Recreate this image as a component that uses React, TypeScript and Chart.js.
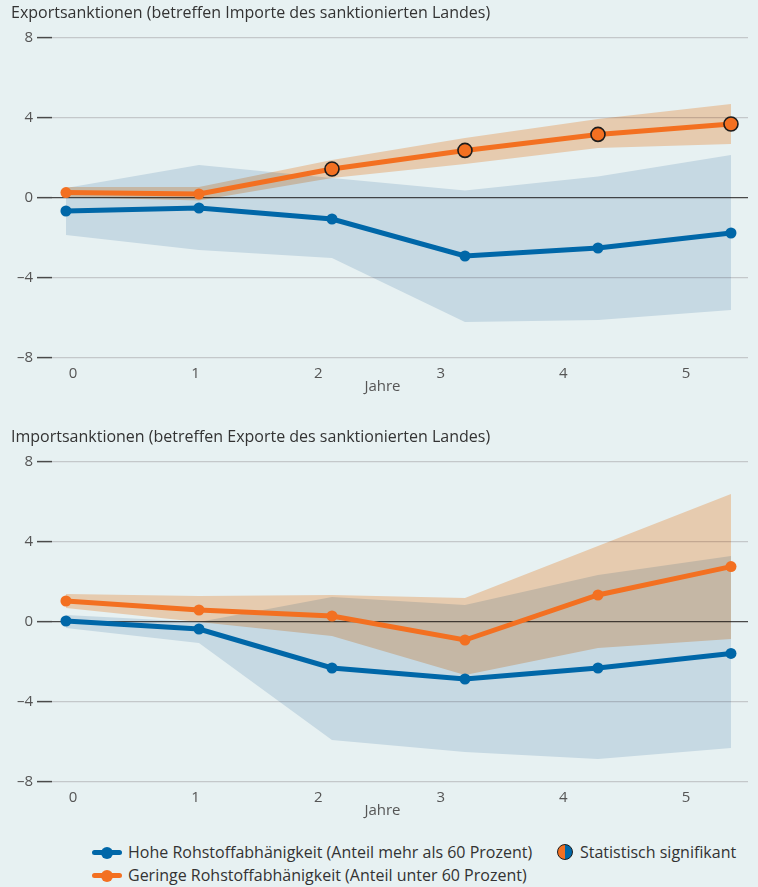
import React, { useEffect, useRef } from 'react';
import { Chart, registerables } from 'chart.js';

// ---------- data ----------
const years = [0, 1, 2, 3, 4, 5];
const xTickValues = [0, 1, 2, 3, 4, 5];
const yTickValues = [-8, -4, 0, 4, 8];

const titleExport = 'Exportsanktionen (betreffen Importe des sanktionierten Landes)';
const titleImport = 'Importsanktionen (betreffen Exporte des sanktionierten Landes)';
const xAxisTitle = 'Jahre';
const legendHigh = 'Hohe Rohstoffabhänigkeit (Anteil mehr als 60 Prozent)';
const legendLow = 'Geringe Rohstoffabhänigkeit (Anteil unter 60 Prozent)';
const legendSig = 'Statistisch signifikant';

// Export sanctions panel
const exportHighMean = [-0.65, -0.5, -1.05, -2.9, -2.5, -1.75];
const exportHighUpper = [0.5, 1.65, 1.0, 0.37, 1.07, 2.15];
const exportHighLower = [-1.85, -2.6, -3.0, -6.2, -6.1, -5.6];
const exportHighSig = [false, false, false, false, false, false];
const exportLowMean = [0.27, 0.2, 1.45, 2.38, 3.18, 3.7];
const exportLowUpper = [0.55, 0.55, 1.9, 3.0, 3.95, 4.7];
const exportLowLower = [0.05, -0.13, 1.0, 1.7, 2.5, 2.7];
const exportLowSig = [false, false, true, true, true, true];

// Import sanctions panel
const importHighMean = [0.05, -0.35, -2.3, -2.85, -2.3, -1.57];
const importHighUpper = [0.35, 0.0, 1.25, 0.85, 2.35, 3.3];
const importHighLower = [-0.3, -1.05, -5.9, -6.5, -6.85, -6.3];
const importHighSig = [false, false, false, false, false, false];
const importLowMean = [1.05, 0.6, 0.3, -0.9, 1.35, 2.77];
const importLowUpper = [1.4, 1.3, 1.35, 1.2, 3.8, 6.4];
const importLowLower = [0.7, 0.0, -0.7, -2.65, -1.3, -0.85];
const importLowSig = [false, false, false, false, false, false];

// ---------- styles ----------
const BG = '#e7f1f2';
const BLUE = '#0067a8';
const ORANGE = '#f37021';
const BLUE_BAND_MUL = 'rgb(219,230,240)';
const ORANGE_BAND_MUL = 'rgb(254,215,185)';
const FONT = '"Open Sans", "Noto Sans", sans-serif';
const TEXT = '#333333';
const TICK = '#555555';

const bandBlend = {
  id: 'bandBlend',
  beforeDraw(chart: any) {
    const { ctx, width, height } = chart;
    ctx.save();
    ctx.fillStyle = BG;
    ctx.fillRect(0, 0, width, height);
    ctx.restore();
  },
  beforeDatasetDraw(chart: any, args: any) {
    const ds: any = chart.data.datasets[args.index];
    if (ds && ds.band) {
      chart.ctx.save();
      chart.ctx.globalCompositeOperation = 'multiply';
    }
  },
  afterDatasetDraw(chart: any, args: any) {
    const ds: any = chart.data.datasets[args.index];
    if (ds && ds.band) chart.ctx.restore();
  },
};

Chart.register(bandBlend as any);
Chart.register(...registerables);

const pts = (ys: number[]) => years.map((x, i) => ({ x, y: ys[i] }));

function bandSets(lower: number[], upper: number[], color: string) {
  return [
    {
      data: pts(lower),
      borderWidth: 0,
      pointRadius: 0,
      pointHoverRadius: 0,
      fill: false,
      band: true,
      borderColor: 'rgba(0,0,0,0)',
    },
    {
      data: pts(upper),
      borderWidth: 0,
      pointRadius: 0,
      pointHoverRadius: 0,
      fill: '-1',
      backgroundColor: color,
      band: true,
      borderColor: 'rgba(0,0,0,0)',
    },
  ];
}

function lineSet(values: number[], sig: boolean[], color: string) {
  return {
    data: pts(values),
    borderColor: color,
    backgroundColor: color,
    borderWidth: 5,
    tension: 0,
    fill: false,
    pointRadius: values.map((_, i) => (sig[i] ? 7 : 5.5)),
    pointHoverRadius: values.map((_, i) => (sig[i] ? 7 : 5.5)),
    pointBackgroundColor: color,
    pointBorderColor: values.map((_, i) => (sig[i] ? '#1c1c1c' : color)),
    pointBorderWidth: values.map((_, i) => (sig[i] ? 1.6 : 0)),
  };
}

interface PanelProps {
  title: string;
  highMean: number[];
  highUpper: number[];
  highLower: number[];
  highSig: boolean[];
  lowMean: number[];
  lowUpper: number[];
  lowLower: number[];
  lowSig: boolean[];
}

function Panel(p: PanelProps) {
  const ref = useRef<HTMLCanvasElement>(null);
  useEffect(() => {
    if (!ref.current) return;
    const textPlugin = {
      id: 'panelText',
      afterDraw(chart: any) {
        const { ctx, chartArea } = chart;
        ctx.save();
        ctx.fillStyle = TEXT;
        ctx.font = `16px ${FONT}`;
        ctx.textAlign = 'left';
        ctx.textBaseline = 'middle';
        ctx.fillText(p.title, 11, 13);
        const x2 = chart.scales.x2;
        ctx.fillStyle = TICK;
        ctx.textAlign = 'center';
        ctx.font = `15px ${FONT}`;
        ctx.fillText(xAxisTitle, x2.getPixelForValue(2.5) + 3, chartArea.bottom + 29);
        ctx.restore();
      },
    };
    const chart = new Chart(ref.current, {
      type: 'line',
      data: {
        // lines first so that they are drawn last (on top of the bands)
        datasets: [
          lineSet(p.lowMean, p.lowSig, ORANGE),
          lineSet(p.highMean, p.highSig, BLUE),
          ...bandSets(p.highLower, p.highUpper, BLUE_BAND_MUL),
          ...bandSets(p.lowLower, p.lowUpper, ORANGE_BAND_MUL),
        ] as any,
      },
      options: {
        animation: false,
        responsive: false,
        devicePixelRatio: 1,
        layout: { padding: { top: 38, right: 10, left: 0, bottom: 0 } },
        plugins: {
          legend: { display: false },
          tooltip: { enabled: false },
          title: { display: false },
        },
        scales: {
          x: {
            type: 'linear',
            min: -0.105,
            max: 5.128,
            display: false,
          },
          x2: {
            type: 'linear',
            position: 'bottom',
            min: -0.171,
            max: 5.506,
            afterBuildTicks: (s: any) => {
              s.ticks = xTickValues.map((v) => ({ value: v }));
            },
            afterFit: (s: any) => {
              s.height = 52;
            },
            grid: { display: false, drawTicks: false },
            border: { display: false },
            ticks: {
              color: TICK,
              padding: 7,
              maxRotation: 0,
              autoSkip: false,
              font: { family: FONT, size: 15 },
              callback: (v: any) => String(v),
            },
          },
          y: {
            type: 'linear',
            min: -8,
            max: 8,
            afterBuildTicks: (s: any) => {
              s.ticks = yTickValues.map((v) => ({ value: v }));
            },
            afterFit: (s: any) => {
              s.width = 52;
            },
            border: { display: false },
            grid: {
              color: (c: any) => (c.tick && c.tick.value === 0 ? '#4a4a4a' : '#c4c8ca'),
              lineWidth: (c: any) => (c.tick && c.tick.value === 0 ? 1.3 : 1.2),
              tickColor: '#4a4a4a',
              tickLength: 15,
              tickWidth: 1.5,
            },
            ticks: {
              color: TICK,
              padding: 4,
              font: { family: FONT, size: 15 },
              callback: (v: any) => (v < 0 ? '\u2013' + Math.abs(v) : String(v)),
            },
          },
        },
      } as any,
      plugins: [textPlugin as any],
    });
    return () => chart.destroy();
  }, []);
  return <canvas ref={ref} width={758} height={410} style={{ display: 'block', width: 758, height: 410 }} />;
}

function LineIcon({ color }: { color: string }) {
  return (
    <div style={{ position: 'relative', width: 30, height: 12, marginRight: 6 }}>
      <div style={{ position: 'absolute', left: 0, top: 4, width: 30, height: 5, borderRadius: 2.5, background: color }} />
      <div style={{ position: 'absolute', left: 9, top: 0.5, width: 12, height: 12, borderRadius: '50%', background: color }} />
    </div>
  );
}

export default function App() {
  useEffect(() => {
    document.body.style.margin = '0';
  }, []);
  const textStyle: React.CSSProperties = { fontFamily: FONT, fontSize: 16, color: TEXT, whiteSpace: 'nowrap' };
  return (
    <div style={{ position: 'absolute', left: 0, top: 0, width: 758, height: 887, background: BG, overflow: 'hidden' }}>
      <div style={{ position: 'absolute', left: 0, top: 0 }}>
        <Panel
          title={titleExport}
          highMean={exportHighMean}
          highUpper={exportHighUpper}
          highLower={exportHighLower}
          highSig={exportHighSig}
          lowMean={exportLowMean}
          lowUpper={exportLowUpper}
          lowLower={exportLowLower}
          lowSig={exportLowSig}
        />
      </div>
      <div style={{ position: 'absolute', left: 0, top: 424 }}>
        <Panel
          title={titleImport}
          highMean={importHighMean}
          highUpper={importHighUpper}
          highLower={importHighLower}
          highSig={importHighSig}
          lowMean={importLowMean}
          lowUpper={importLowUpper}
          lowLower={importLowLower}
          lowSig={importLowSig}
        />
      </div>
      <div style={{ position: 'absolute', left: 92, top: 841, display: 'flex', alignItems: 'center', height: 22 }}>
        <LineIcon color={BLUE} />
        <span style={textStyle}>{legendHigh}</span>
      </div>
      <div style={{ position: 'absolute', left: 92, top: 864, display: 'flex', alignItems: 'center', height: 22 }}>
        <LineIcon color={ORANGE} />
        <span style={textStyle}>{legendLow}</span>
      </div>
      <div style={{ position: 'absolute', left: 557, top: 841, display: 'flex', alignItems: 'center', height: 22 }}>
        <div
          style={{
            width: 16,
            height: 16,
            boxSizing: 'border-box',
            borderRadius: '50%',
            border: '1.6px solid #1c1c1c',
            background: `linear-gradient(to right, ${ORANGE} 50%, ${BLUE} 50%)`,
            marginRight: 7,
          }}
        />
        <span style={textStyle}>{legendSig}</span>
      </div>
    </div>
  );
}
